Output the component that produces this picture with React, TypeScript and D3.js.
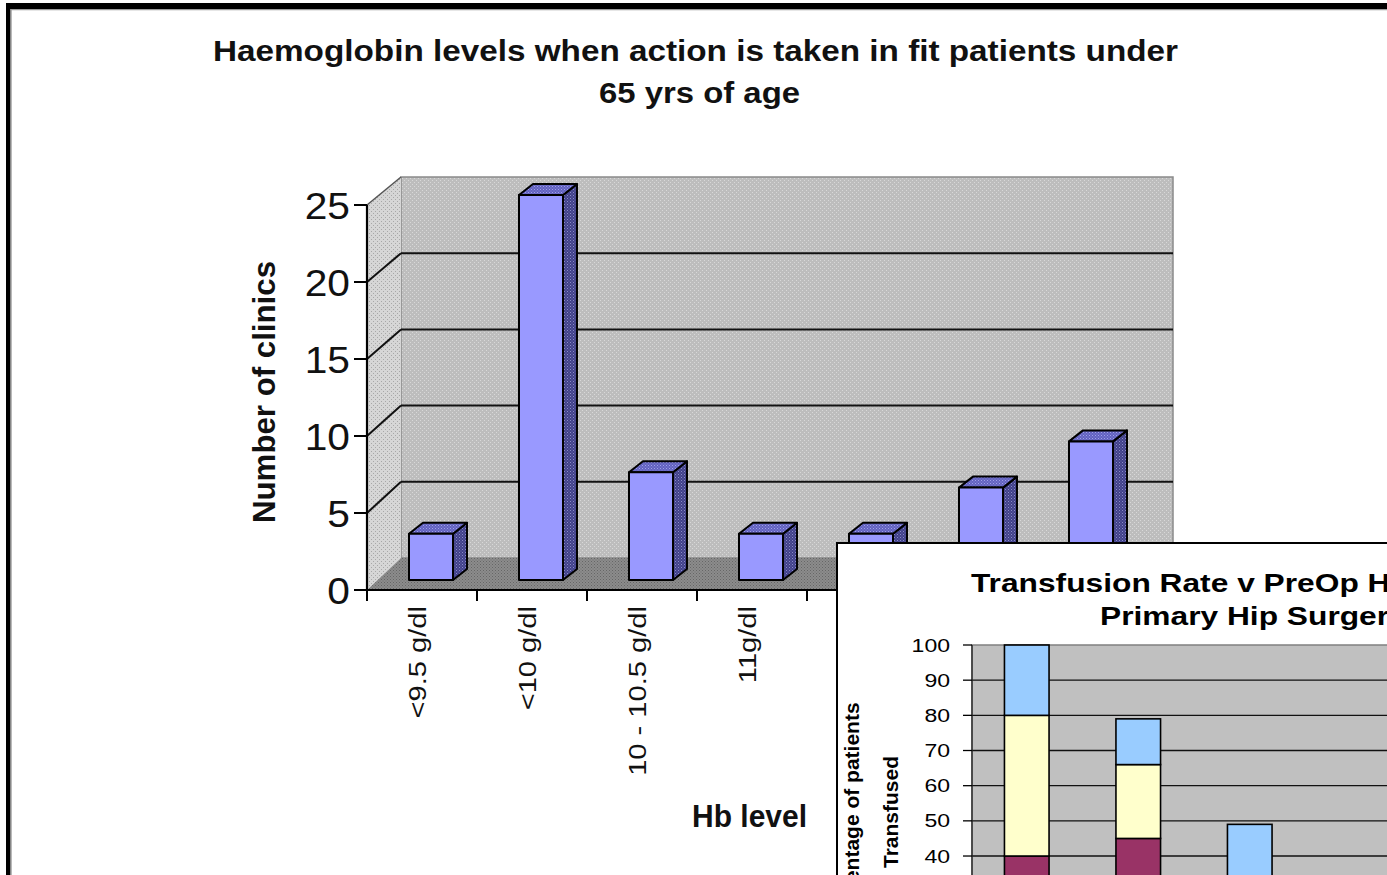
import React, { useEffect } from 'react';
import * as d3 from 'd3';

// ---------- Main chart data ----------
const categories = ['<9.5 g/dl', '<10 g/dl', '10 - 10.5 g/dl', '11g/dl', '11.5 g/dl', '12 g/dl', '>12 g/dl'];
const clinicCounts = [3, 25, 7, 3, 3, 6, 9];
const yTicks = [0, 5, 10, 15, 20, 25];
const gridValues = [5, 10, 15, 20];
const titleLines = ['Haemoglobin levels when action is taken in fit patients under', '65 yrs of age'];
const yAxisTitle = 'Number of clinics';
const xAxisTitle = 'Hb level';

// ---------- Inset chart data ----------
const insetCategories = ['<10', '10 - 11', '11 - 12', '12 - 13'];
const insetLower = [40, 45, 20, 10];
const insetMiddle = [40, 21, 12, 8];
const insetUpper = [20, 13, 17, 9];
const insetTicks = [40, 50, 60, 70, 80, 90, 100];
const insetGrid = [10, 20, 30, 40, 50, 60, 70, 80, 90];
const insetTitleLines = ['Transfusion Rate v PreOp Hb in', 'Primary Hip Surgery'];
const insetYTitle = ['Percentage of patients', 'Transfused'];

const FONT = '"Liberation Sans", Arial, Helvetica, sans-serif';

export default function App() {
  useEffect(() => {
    document.body.style.margin = '0';
    document.body.style.overflow = 'hidden';
  }, []);

  // main scales
  const xBand = d3.scaleBand<string>().domain(categories).range([367, 1137]).padding(0);
  const bwBand = xBand.bandwidth();
  const yFront = d3.scaleLinear().domain([0, 25]).range([590, 205]);
  const yBack = d3.scaleLinear().domain([0, 25]).range([558, 177]);
  const yBar = d3.scaleLinear().domain([0, 25]).range([580, 195]);
  const DX = 34;
  const backX0 = 367 + DX;
  const backX1 = 1137 + DX + 2;
  const bdx = 14, bdy = 11;

  // inset scales
  const ix = d3.scaleBand<string>().domain(insetCategories).range([971, 971 + 111.5 * insetCategories.length]).padding(0);
  const iy = d3.scaleLinear().domain([0, 100]).range([996.7, 645]);
  const stackData = insetCategories.map((c, i) => ({ c, lower: insetLower[i], middle: insetMiddle[i], upper: insetUpper[i] }));
  const stack = d3.stack<any>().keys(['lower', 'middle', 'upper'])(stackData);
  const stackColors: Record<string, string> = { lower: '#993366', middle: '#FFFFCC', upper: '#99CCFF' };

  const poly = (pts: [number, number][]) => pts.map((p) => p.join(',')).join(' ');

  return (
    <svg width={1387} height={875} style={{ position: 'absolute', left: 0, top: 0, display: 'block' }} fontFamily={FONT}>
      <defs>
        <pattern id="pWall" width={4} height={4} patternUnits="userSpaceOnUse">
          <rect width={4} height={4} fill="#BDBDBD" />
          <rect x={0} y={0} width={1} height={1} fill="#D8D8D8" />
          <rect x={2} y={2} width={1} height={1} fill="#D8D8D8" />
        </pattern>
        <pattern id="pSide" width={4} height={4} patternUnits="userSpaceOnUse">
          <rect width={4} height={4} fill="#D6D6D6" />
          <rect x={1} y={1} width={1} height={1} fill="#A8A8A8" />
          <rect x={3} y={3} width={1} height={1} fill="#A8A8A8" />
        </pattern>
        <pattern id="pFloor" width={3} height={3} patternUnits="userSpaceOnUse">
          <rect width={3} height={3} fill="#8C8C8C" />
          <rect x={0} y={0} width={1} height={1} fill="#666666" />
          <rect x={1.5} y={1.5} width={1} height={1} fill="#6E6E6E" />
        </pattern>
        <pattern id="pBarSide" width={3} height={3} patternUnits="userSpaceOnUse">
          <rect width={3} height={3} fill="#40408A" />
          <rect x={0} y={0} width={1} height={1} fill="#8A8AC8" />
          <rect x={1.5} y={1.5} width={1} height={1} fill="#7070B0" />
        </pattern>
        <pattern id="pBarTop" width={3} height={3} patternUnits="userSpaceOnUse">
          <rect width={3} height={3} fill="#6262C0" />
          <rect x={0} y={0} width={1} height={1} fill="#A0A0E8" />
          <rect x={1.5} y={1.5} width={1} height={1} fill="#8C8CDC" />
        </pattern>
      </defs>

      <rect x={0} y={0} width={1387} height={875} fill="#FFFFFF" />

      {/* outer frame */}
      <rect x={6} y={3} width={1390} height={6} fill="#000" />
      <rect x={6} y={3} width={4.5} height={880} fill="#000" />
      <line x1={10.5} y1={9.6} x2={1387} y2={9.6} stroke="#9A9A9A" strokeWidth={1.2} />
      <line x1={11.2} y1={9.6} x2={11.2} y2={875} stroke="#9A9A9A" strokeWidth={1} />

      {/* title */}
      <text x={213} y={61} fontSize={30} fontWeight="bold" textLength={965} lengthAdjust="spacingAndGlyphs" fill="#111">{titleLines[0]}</text>
      <text x={599} y={103} fontSize={30} fontWeight="bold" textLength={201} lengthAdjust="spacingAndGlyphs" fill="#111">{titleLines[1]}</text>

      {/* back wall */}
      <rect x={backX0} y={yBack(25)} width={backX1 - backX0} height={yBack(0) - yBack(25)} fill="url(#pWall)" stroke="#8A8A8A" strokeWidth={1.5} />
      {/* side wall */}
      <polygon points={poly([[367, yFront(25)], [backX0, yBack(25)], [backX0, yBack(0)], [367, yFront(0)]])} fill="url(#pSide)" />
      <line x1={367} y1={yFront(25)} x2={backX0} y2={yBack(25)} stroke="#555" strokeWidth={1.5} />
      {/* floor */}
      <polygon points={poly([[367, yFront(0)], [backX0, yBack(0)], [backX1, yBack(0)], [1137, yFront(0)]])} fill="url(#pFloor)" />

      {/* grid lines */}
      {gridValues.map((v) => (
        <g key={v}>
          <line x1={backX0} y1={yBack(v)} x2={backX1} y2={yBack(v)} stroke="#111" strokeWidth={2} />
          <line x1={367} y1={yFront(v)} x2={backX0} y2={yBack(v)} stroke="#111" strokeWidth={2} />
        </g>
      ))}

      {/* bars */}
      {categories.map((c, i) => {
        const x0 = (xBand(c) as number) + bwBand * 0.3 + 9;
        const x1 = x0 + bwBand * 0.4;
        const yt = yBar(clinicCounts[i]);
        const yb = yBar(0);
        return (
          <g key={c} stroke="#000" strokeWidth={2} strokeLinejoin="round">
            <polygon points={poly([[x1, yt], [x1 + bdx, yt - bdy], [x1 + bdx, yb - bdy], [x1, yb]])} fill="url(#pBarSide)" />
            <polygon points={poly([[x0, yt], [x0 + bdx, yt - bdy], [x1 + bdx, yt - bdy], [x1, yt]])} fill="url(#pBarTop)" />
            <rect x={x0} y={yt} width={x1 - x0} height={yb - yt} fill="#9999FF" />
          </g>
        );
      })}

      {/* axes */}
      <line x1={367} y1={yFront(25)} x2={367} y2={yFront(0) + 1} stroke="#000" strokeWidth={2.2} />
      <line x1={366} y1={yFront(0)} x2={1137} y2={yFront(0)} stroke="#000" strokeWidth={2.2} />
      {yTicks.map((t) => (
        <g key={t}>
          <line x1={354} y1={yFront(t)} x2={367} y2={yFront(t)} stroke="#000" strokeWidth={2} />
          <text transform={`translate(350,${yFront(t) + 13.5}) scale(1.1,1)`} textAnchor="end" fontSize={37} fill="#111">{t}</text>
        </g>
      ))}
      {categories.concat(['']).map((c, i) => {
        const x = 367 + i * bwBand;
        return <line key={'xt' + i} x1={x} y1={yFront(0)} x2={x} y2={yFront(0) + 11} stroke="#000" strokeWidth={2} />;
      })}
      {categories.map((c) => {
        const cx = (xBand(c) as number) + bwBand / 2 + 4;
        return (
          <text key={'xl' + c} transform={`translate(${cx},606) rotate(-90) scale(1.12,0.92)`} textAnchor="end" fontSize={26} fill="#111">{c}</text>
        );
      })}
      <text transform="translate(275,392) rotate(-90)" textAnchor="middle" fontSize={31} fontWeight="bold" textLength={262} lengthAdjust="spacingAndGlyphs" fill="#111">{yAxisTitle}</text>
      <text x={692} y={827} fontSize={31} fontWeight="bold" textLength={115} lengthAdjust="spacingAndGlyphs" fill="#111">{xAxisTitle}</text>

      {/* ---------- inset chart ---------- */}
      <rect x={837} y={543} width={700} height={500} fill="#FFFFFF" stroke="#000" strokeWidth={2} />
      <text transform="translate(971,592) scale(1.22,1)" fontSize={26} fontWeight="bold" fill="#000">{insetTitleLines[0]}</text>
      <text transform="translate(1100,625) scale(1.22,1)" fontSize={26} fontWeight="bold" fill="#000">{insetTitleLines[1]}</text>

      <rect x={972} y={iy(100)} width={600} height={iy(0) - iy(100)} fill="#C0C0C0" stroke="#808080" strokeWidth={1.5} />
      {insetGrid.map((v) => (
        <line key={'ig' + v} x1={972} y1={iy(v)} x2={1387} y2={iy(v)} stroke="#111" strokeWidth={1.3} />
      ))}
      {stack.map((layer) => (
        <g key={layer.key} fill={stackColors[layer.key]} stroke="#000" strokeWidth={1.6}>
          {layer.map((d, i) => {
            const c = insetCategories[i];
            const bx = (ix(c) as number) + ix.bandwidth() * 0.3;
            return <rect key={c} x={bx} y={iy(d[1])} width={ix.bandwidth() * 0.4} height={iy(d[0]) - iy(d[1])} />;
          })}
        </g>
      ))}
      <line x1={972} y1={iy(100)} x2={972} y2={875} stroke="#222" strokeWidth={1.3} />
      {insetTicks.map((t) => (
        <g key={'it' + t}>
          <line x1={963} y1={iy(t)} x2={972} y2={iy(t)} stroke="#000" strokeWidth={1.3} />
          <text transform={`translate(950,${iy(t) + 6.5}) scale(1.28,1)`} textAnchor="end" fontSize={18} fill="#000">{t}</text>
        </g>
      ))}
      <text transform="translate(859,815) rotate(-90)" textAnchor="middle" fontSize={21} fontWeight="bold" fill="#000">{insetYTitle[0]}</text>
      <text transform="translate(898,812) rotate(-90)" textAnchor="middle" fontSize={21} fontWeight="bold" fill="#000">{insetYTitle[1]}</text>
    </svg>
  );
}
